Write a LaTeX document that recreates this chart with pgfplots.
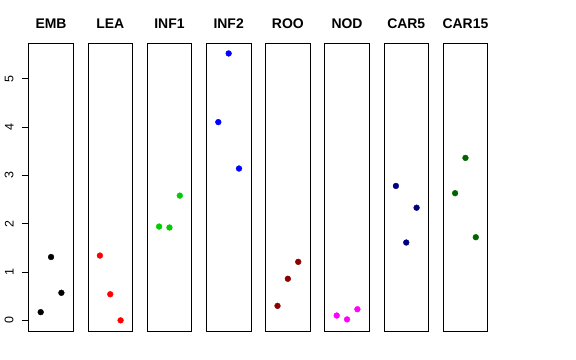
\documentclass[border=0pt]{standalone}
\usepackage{pgfplots}
\pgfplotsset{compat=1.18}
\usepackage{fontspec}
\setmainfont{Liberation Sans}
\definecolor{rgreen}{RGB}{0,205,0}
\definecolor{rdarkred}{RGB}{139,0,0}
\definecolor{rnavy}{RGB}{0,0,128}
\definecolor{rdarkgreen}{RGB}{0,100,0}
\definecolor{rmagenta}{RGB}{255,0,255}
\definecolor{rred}{RGB}{255,0,0}
\definecolor{rblue}{RGB}{0,0,255}
\pgfplotsset{
  panel/.style={
    scale only axis, width=44.7bp, height=287.7bp,
    xmin=-0.16, xmax=4.16, ymin=-0.22, ymax=5.73,
    xtick=\empty, ytick=\empty, anchor=south west,
    axis line style={line width=0.75bp, black},
    title style={font=\bfseries\fontsize{14}{16}\selectfont, at={(0.5,1)}, anchor=base, yshift=9bp},
    clip=false,
  },
  pts/.style={only marks, mark=*, mark size=2.9bp, mark options={draw=#1, fill=#1}},
}
\begin{document}
\begin{tikzpicture}
\path[use as bounding box] (0,0) rectangle (576bp,360bp);
\begin{axis}[panel, at={(28.7bp,29bp)}, title={EMB},
  ytick={0,1,2,3,4,5}, ytick pos=left, tick align=outside, major tick length=7bp,
  tick style={line width=0.75bp, black},
  /pgf/number format/assume math mode=true,
  yticklabel style={font=\fontsize{12.5}{14}\selectfont, rotate=90, anchor=south, inner sep=0pt, yshift=8bp}]
\addplot[pts=black] coordinates {(1,0.17) (2,1.31) (3,0.57)};
\end{axis}
\begin{axis}[panel, at={(87.9bp,29bp)}, title={LEA}]
\addplot[pts=rred] coordinates {(1,1.34) (2,0.54) (3,0.00)};
\end{axis}
\begin{axis}[panel, at={(147.1bp,29bp)}, title={INF1}]
\addplot[pts=rgreen] coordinates {(1,1.94) (2,1.92) (3,2.58)};
\end{axis}
\begin{axis}[panel, at={(206.3bp,29bp)}, title={INF2}]
\addplot[pts=rblue] coordinates {(1,4.10) (2,5.52) (3,3.14)};
\end{axis}
\begin{axis}[panel, at={(265.5bp,29bp)}, title={ROO}]
\addplot[pts=rdarkred] coordinates {(1,0.30) (2,0.86) (3,1.21)};
\end{axis}
\begin{axis}[panel, at={(324.7bp,29bp)}, title={NOD}]
\addplot[pts=rmagenta] coordinates {(1,0.10) (2,0.02) (3,0.23)};
\end{axis}
\begin{axis}[panel, at={(383.9bp,29bp)}, title={CAR5}]
\addplot[pts=rnavy] coordinates {(1,2.78) (2,1.61) (3,2.33)};
\end{axis}
\begin{axis}[panel, at={(443.1bp,29bp)}, title={CAR15}]
\addplot[pts=rdarkgreen] coordinates {(1,2.63) (2,3.36) (3,1.72)};
\end{axis}
\end{tikzpicture}
\end{document}
